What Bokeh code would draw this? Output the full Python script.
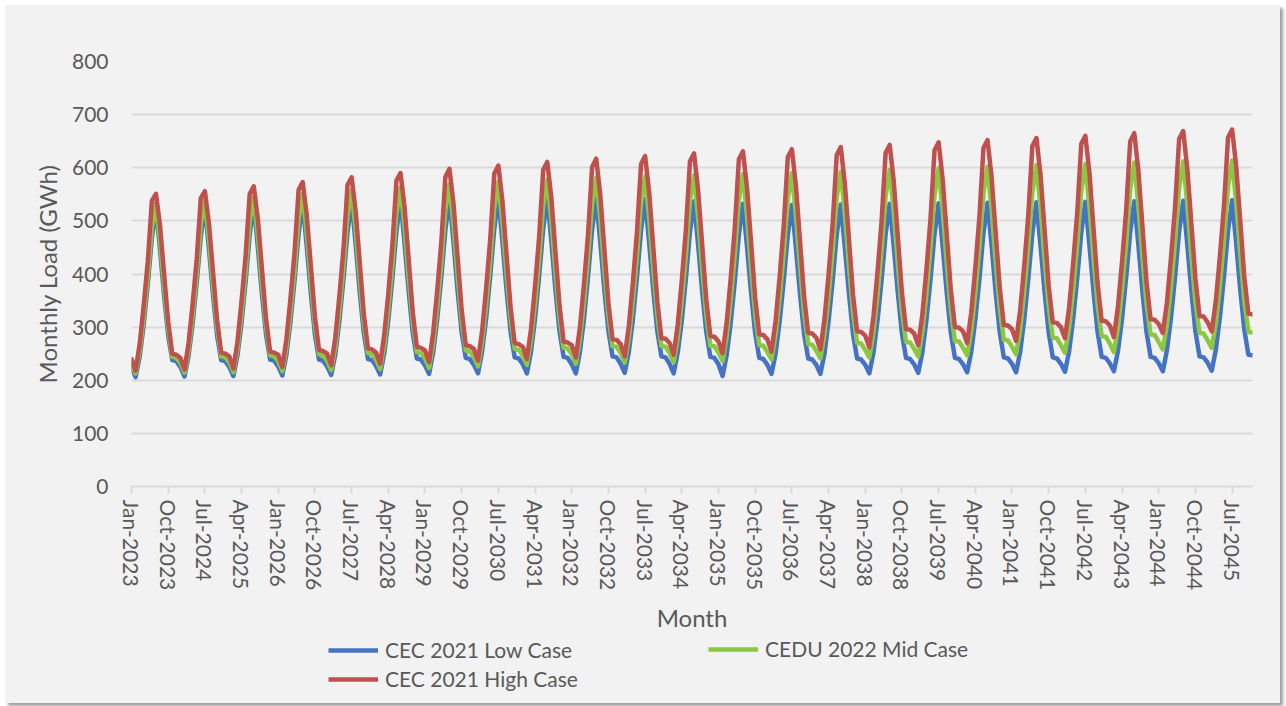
from bokeh.plotting import figure
from bokeh.layouts import column
from bokeh.models import Range1d, FixedTicker, Legend, LegendItem, ColumnDataSource
from bokeh.embed import file_html
from bokeh.resources import INLINE

# Monthly load forecasts (GWh), one row of Jan..Dec per year
years = list(range(2023, 2046))
month_names = ["Jan", "Feb", "Mar", "Apr", "May", "Jun",
               "Jul", "Aug", "Sep", "Oct", "Nov", "Dec"]

low_case = [
    [226, 206, 244, 305, 381, 468, 525, 445, 359, 284, 238, 236],
    [225, 207, 246, 307, 384, 470, 528, 447, 360, 284, 238, 236],
    [225, 208, 247, 308, 386, 474, 532, 450, 362, 286, 239, 237],
    [226, 209, 248, 310, 388, 476, 534, 451, 363, 286, 239, 237],
    [226, 210, 249, 312, 390, 479, 538, 455, 365, 288, 240, 238],
    [227, 211, 250, 313, 392, 481, 540, 456, 367, 289, 241, 239],
    [228, 212, 252, 315, 394, 483, 543, 459, 368, 290, 242, 240],
    [229, 213, 253, 316, 396, 485, 545, 460, 370, 291, 243, 241],
    [230, 213, 253, 316, 396, 485, 545, 461, 370, 292, 244, 242],
    [230, 213, 253, 315, 395, 484, 543, 460, 370, 293, 245, 243],
    [231, 214, 253, 315, 394, 482, 541, 458, 369, 292, 245, 243],
    [231, 213, 252, 313, 391, 479, 537, 455, 367, 291, 244, 242],
    [230, 208, 247, 308, 386, 474, 532, 451, 364, 288, 242, 240],
    [229, 212, 250, 311, 387, 473, 530, 449, 362, 287, 241, 239],
    [229, 212, 250, 311, 387, 474, 531, 450, 363, 287, 241, 239],
    [229, 213, 251, 312, 388, 475, 532, 451, 364, 288, 242, 240],
    [230, 214, 252, 313, 389, 476, 533, 452, 364, 289, 242, 240],
    [230, 215, 253, 314, 390, 477, 534, 453, 365, 290, 243, 241],
    [231, 215, 253, 314, 391, 477, 535, 453, 366, 290, 243, 241],
    [231, 216, 254, 315, 392, 478, 536, 454, 367, 291, 244, 242],
    [232, 217, 255, 316, 393, 479, 537, 455, 367, 291, 244, 242],
    [232, 217, 256, 317, 394, 480, 538, 456, 368, 292, 245, 243],
    [233, 218, 257, 318, 395, 481, 539, 458, 370, 295, 248, 247],
]

mid_case = [
    [233, 213, 254, 318, 395, 487, 532, 460, 374, 296, 244, 242],
    [233, 214, 256, 321, 399, 493, 538, 465, 377, 298, 245, 243],
    [234, 215, 258, 324, 403, 499, 545, 471, 381, 301, 247, 245],
    [236, 217, 260, 327, 407, 504, 551, 476, 385, 303, 249, 247],
    [237, 219, 263, 331, 412, 511, 558, 481, 389, 306, 251, 249],
    [239, 221, 265, 334, 416, 515, 563, 486, 393, 309, 253, 251],
    [241, 223, 268, 337, 420, 521, 569, 491, 397, 312, 256, 254],
    [244, 226, 271, 341, 424, 525, 574, 495, 401, 316, 259, 257],
    [246, 229, 274, 344, 428, 529, 578, 499, 404, 318, 261, 260],
    [249, 231, 277, 347, 431, 532, 581, 502, 407, 321, 264, 263],
    [251, 233, 279, 349, 433, 535, 584, 504, 408, 322, 264, 263],
    [251, 234, 280, 350, 435, 537, 586, 506, 409, 323, 265, 264],
    [252, 236, 282, 352, 437, 539, 588, 508, 411, 324, 266, 265],
    [253, 239, 285, 355, 439, 541, 590, 510, 413, 326, 268, 267],
    [255, 241, 287, 357, 442, 544, 593, 512, 415, 328, 270, 269],
    [257, 243, 289, 359, 444, 547, 596, 515, 418, 330, 272, 271],
    [259, 245, 291, 362, 447, 549, 599, 518, 420, 333, 274, 273],
    [261, 247, 293, 364, 449, 552, 602, 521, 423, 335, 276, 275],
    [263, 249, 295, 366, 452, 555, 605, 524, 426, 339, 280, 279],
    [266, 252, 298, 369, 454, 557, 607, 526, 429, 341, 283, 282],
    [269, 253, 299, 371, 456, 560, 610, 529, 432, 344, 286, 285],
    [272, 258, 304, 375, 460, 562, 612, 531, 434, 347, 289, 288],
    [275, 261, 307, 377, 462, 565, 614, 533, 436, 349, 291, 290],
]

high_case = [
    [240, 218, 268, 341, 424, 538, 551, 491, 400, 310, 250, 248],
    [242, 220, 270, 344, 428, 543, 556, 495, 404, 313, 252, 250],
    [245, 222, 273, 349, 435, 551, 565, 503, 410, 316, 254, 252],
    [248, 225, 277, 354, 441, 559, 573, 510, 415, 320, 257, 255],
    [250, 228, 281, 359, 447, 568, 582, 518, 421, 324, 260, 258],
    [252, 231, 285, 364, 454, 576, 590, 525, 427, 328, 263, 261],
    [256, 234, 289, 369, 460, 583, 598, 532, 432, 332, 266, 264],
    [259, 237, 292, 373, 465, 589, 604, 537, 437, 337, 270, 268],
    [263, 240, 296, 377, 470, 596, 611, 543, 442, 341, 273, 271],
    [266, 243, 299, 381, 475, 602, 617, 549, 447, 345, 277, 276],
    [268, 245, 302, 384, 479, 607, 622, 553, 451, 348, 279, 278],
    [270, 248, 305, 388, 483, 612, 627, 558, 455, 352, 283, 282],
    [273, 251, 308, 392, 487, 616, 631, 562, 459, 355, 286, 285],
    [277, 254, 311, 395, 490, 620, 635, 566, 462, 358, 289, 288],
    [280, 258, 315, 399, 494, 624, 639, 570, 466, 361, 292, 291],
    [284, 262, 319, 403, 498, 628, 643, 574, 470, 365, 296, 295],
    [288, 266, 323, 407, 503, 633, 648, 578, 474, 370, 300, 299],
    [292, 270, 327, 411, 507, 637, 652, 582, 478, 374, 304, 303],
    [296, 274, 331, 415, 511, 641, 656, 587, 483, 378, 309, 308],
    [300, 279, 336, 420, 515, 645, 660, 590, 486, 382, 312, 311],
    [303, 281, 339, 423, 519, 650, 665, 595, 490, 385, 315, 314],
    [306, 289, 346, 430, 525, 654, 669, 599, 495, 391, 321, 320],
    [309, 292, 349, 433, 528, 657, 672, 603, 499, 394, 325, 324],
]

series_names = ["CEC 2021 Low Case", "CEDU 2022 Mid Case", "CEC 2021 High Case"]
series_colors = ["#4472C4", "#8DC641", "#C0504D"]

# Category labels for every month of the horizon, labelled every 9 months
month_labels = [f"{m}-{y}" for y in years for m in month_names]
label_step = 9

month_index = list(range(len(month_labels)))
source = ColumnDataSource(dict(
    idx=month_index,
    month=month_labels,
    low=[v for row in low_case for v in row],
    mid=[v for row in mid_case for v in row],
    high=[v for row in high_case for v in row],
))

FONT = "Lato"
TEXT_COLOR = "#595959"
BG = "#F2F2F2"
LINE_W = 4.5

p = figure(
    width=1275, height=630,
    output_backend="svg", toolbar_location=None,
    x_range=Range1d(0, len(month_labels) - 1),
    y_range=Range1d(0, 800),
    background_fill_color=BG, border_fill_color=BG,
    min_border_left=126, min_border_right=28,
    min_border_top=56, min_border_bottom=145,
    outline_line_color=None,
)

for key, color in zip(["low", "mid", "high"], series_colors):
    p.line("idx", key, source=source, line_color=color, line_width=LINE_W,
           line_join="round", line_cap="round")

# Axes
xa = p.xaxis[0]
tick_positions = list(range(0, len(month_labels), label_step))
xa.ticker = FixedTicker(ticks=tick_positions)
xa.major_label_overrides = {i: month_labels[i] for i in tick_positions}
xa.major_label_orientation = "vertical"
xa.axis_line_color = "#D9D9D9"
xa.axis_line_width = 2
xa.major_tick_line_color = "#D9D9D9"
xa.major_tick_line_width = 2
xa.major_tick_out = 7
xa.major_tick_in = 0
xa.minor_tick_line_color = None
xa.major_label_standoff = 6
xa.major_label_text_font = FONT
xa.major_label_text_font_size = "21px"
xa.major_label_text_color = TEXT_COLOR
xa.axis_label = "Month"
xa.axis_label_text_font = FONT
xa.axis_label_text_font_size = "24px"
xa.axis_label_text_font_style = "normal"
xa.axis_label_text_color = TEXT_COLOR
xa.axis_label_standoff = 10

ya = p.yaxis[0]
ya.ticker = FixedTicker(ticks=list(range(0, 801, 100)))
ya.axis_line_color = None
ya.major_tick_line_color = None
ya.minor_tick_line_color = None
ya.major_label_standoff = 17
ya.major_label_text_font = FONT
ya.major_label_text_font_size = "21px"
ya.major_label_text_color = TEXT_COLOR
ya.axis_label = "Monthly Load (GWh)"
ya.axis_label_text_font = FONT
ya.axis_label_text_font_size = "24px"
ya.axis_label_text_font_style = "normal"
ya.axis_label_text_color = TEXT_COLOR
ya.axis_label_standoff = 7

p.xgrid.grid_line_color = None
p.ygrid.grid_line_color = "#D9D9D9"
p.ygrid.grid_line_width = 2

# Legend strip underneath the chart; proxy lines carry the series styles
lp = figure(
    width=1275, height=68,
    output_backend="svg", toolbar_location=None,
    x_range=Range1d(0, 1), y_range=Range1d(0, 1),
    x_axis_type=None, y_axis_type=None,
    background_fill_color=BG, border_fill_color=BG,
    min_border=0, outline_line_color=None,
)
legend_lines = [lp.line(x=[float("nan")], y=[float("nan")],
                        line_color=c, line_width=LINE_W)
                for c in series_colors]


def legend_block(idxs, loc):
    lg = Legend(
        items=[LegendItem(label=series_names[i], renderers=[legend_lines[i]])
               for i in idxs],
        location=loc, orientation="vertical",
        background_fill_alpha=0, border_line_color=None,
        padding=0, margin=0, spacing=4,
        glyph_width=50, glyph_height=22, label_standoff=7, label_height=22,
        label_text_font=FONT, label_text_font_size="21px",
        label_text_color=TEXT_COLOR,
    )
    lp.add_layout(lg)


legend_block([0, 2], (197, 12))
legend_block([1], (577, 42))

layout = column(p, lp, spacing=0)
layout.margin = (5, 0, 0, 5)
layout.styles = {"box-shadow": "3px 3px 3px #9e9e9e", "background-color": BG}

open("out.html", "w").write(file_html(layout, INLINE))
